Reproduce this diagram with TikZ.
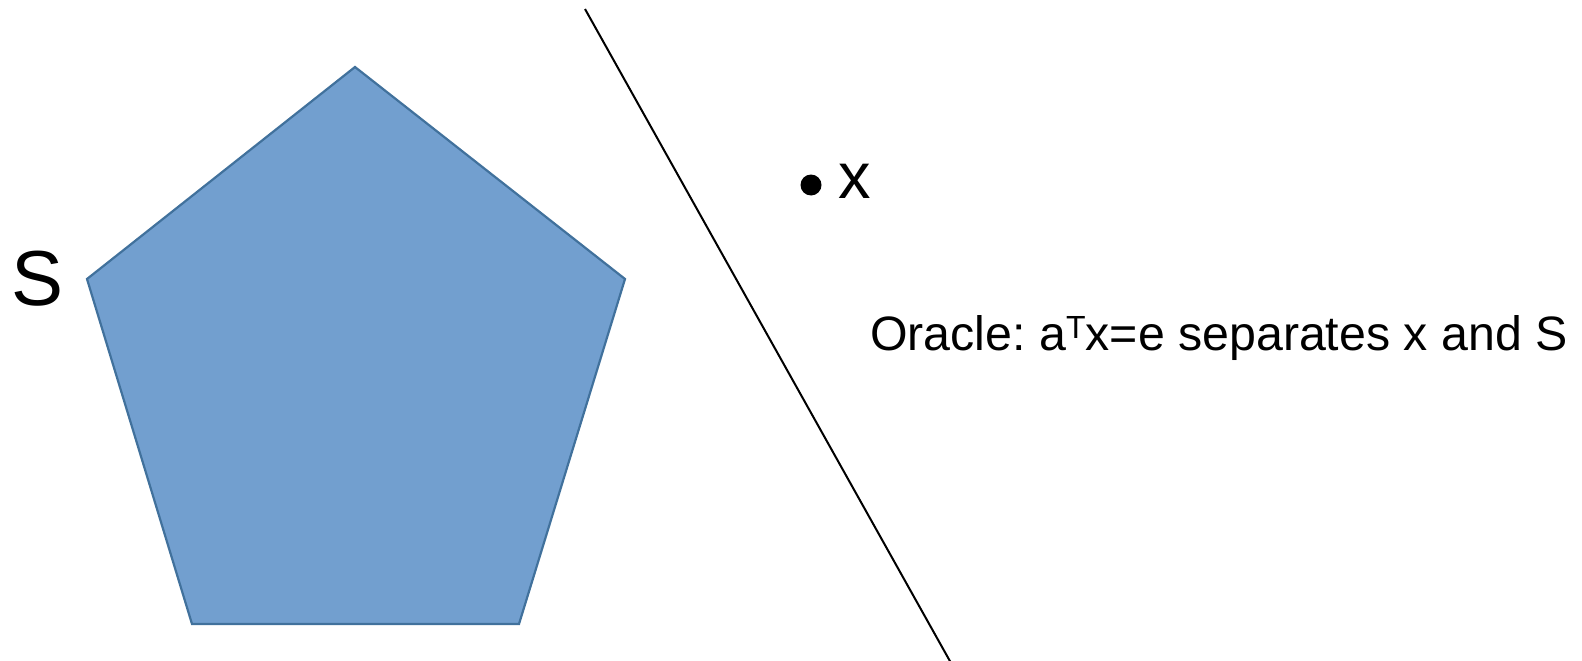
\documentclass[tikz,border=0pt]{standalone}
\usepackage{fontspec}
\setmainfont{Liberation Sans}
\usetikzlibrary{positioning}
\definecolor{setfill}{RGB}{114,159,207}
\definecolor{setedge}{RGB}{65,113,156}
\newcommand{\transp}{\raisebox{12pt}{\fontsize{32}{32}\selectfont T}}

\begin{document}
\frenchspacing
\begin{tikzpicture}[
    x=1pt, y=-1pt,
    setshape/.style={draw=setedge, fill=setfill, line width=2.2pt, line join=miter},
    hyper/.style={draw=black, line width=2pt},
    pt/.style={circle, fill=black, inner sep=0pt, minimum size=21pt},
    lbl/.style={inner sep=0pt, font=\fontsize{#1}{#1}\selectfont}
]
\useasboundingbox (0,0) rectangle (1582,661);
% the set S
\coordinate (top) at (355,67);
\coordinate (rt) at (625,279);
\coordinate (br) at (519,624);
\coordinate (bl) at (192,624);
\coordinate (lt) at (87,279);
\draw[setshape] (top) -- (rt) -- (br) -- (bl) -- (lt) -- cycle;
\node[lbl=78, anchor=base] (slabel) at (38,305) {S};

% separating hyperplane
\coordinate (h1) at (585,9);
\coordinate (h2) at (951,663);
\draw[hyper] (h1) -- (h2);

% the point x
\node[pt] (xpt) at (811,185) {};
\node[lbl=65, anchor=base west] (xlabel) at (838,198) {x};

\node[lbl=48.3, anchor=base west] (oracle) at (870,350) {Oracle: a\transp x=e separates x and S};
\end{tikzpicture}
\end{document}
